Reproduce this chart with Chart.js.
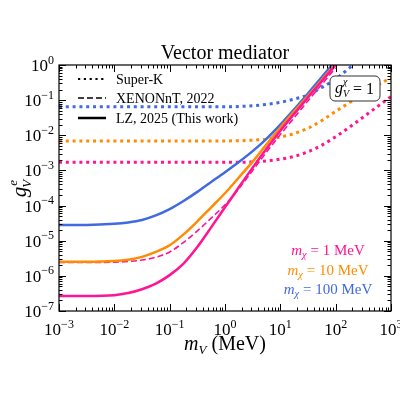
<!DOCTYPE html>
<html>
<head>
<meta charset="utf-8">
<script src="https://cdn.jsdelivr.net/npm/chart.js@4.4.1/dist/chart.umd.min.js"></script>
<style>body{margin:0;background:#fff}</style>
</head>
<body>
<canvas id="c" width="400" height="400"></canvas>
<script>
// Vector mediator limits, g_V^e vs m_V (MeV), g_V^chi = 1

// LZ 2025 (solid) + XENONnT 2022 (dashed) share this m_V grid
const mVGrid = [0.001, 0.00316, 0.01, 0.0178, 0.0316, 0.0562, 0.1, 0.178, 0.316, 0.562,
  1, 1.78, 3.16, 5.62, 10, 17.8, 31.6, 56.2, 100];
const lzMchi100 = [2.82e-5, 2.82e-5, 3.02e-5, 3.31e-5, 3.89e-5, 5.25e-5, 7.94e-5, 1.35e-4, 2.45e-4, 4.68e-4,
  8.91e-4, 1.74e-3, 3.55e-3, 7.94e-3, 2.0e-2, 5.50e-2, 0.155, 0.457, 1.32];
const lzMchi10 = [2.51e-6, 2.51e-6, 2.63e-6, 2.88e-6, 3.47e-6, 4.79e-6, 7.41e-6, 1.51e-5, 3.55e-5, 8.91e-5,
  2.24e-4, 6.31e-4, 1.78e-3, 5.50e-3, 1.66e-2, 4.79e-2, 0.132, 0.380, 1.10];
const lzMchi1 = [2.69e-7, 2.69e-7, 2.82e-7, 3.24e-7, 4.17e-7, 6.03e-7, 1.05e-6, 2.24e-6, 6.61e-6, 2.40e-5,
  8.91e-5, 3.31e-4, 1.20e-3, 4.17e-3, 1.35e-2, 4.07e-2, 0.120, 0.347, 1.0];
const xenonMchi1 = [2.40e-6, 2.40e-6, 2.45e-6, 2.57e-6, 2.82e-6, 3.39e-6, 4.79e-6, 8.91e-6, 1.91e-5, 4.37e-5,
  1.05e-4, 3.02e-4, 1.0e-3, 3.31e-3, 1.05e-2, 3.16e-2, 9.55e-2, 0.282, 0.832];

// Super-K (dotted)
const skGrid = [0.001, 1, 3.16, 5.62, 10, 17.8, 31.6, 56.2, 100, 178, 316, 562, 1000];
const skMchi100 = [0.0646, 0.0646, 0.0692, 0.0759, 0.0871, 0.107, 0.141, 0.229, 0.398, 0.832, 1.78, 3.55, 7.08];
const skMchi10 = [6.92e-3, 6.92e-3, 7.24e-3, 7.76e-3, 8.91e-3, 1.12e-2, 1.58e-2, 2.63e-2, 4.79e-2, 8.51e-2, 0.151, 0.263, 0.437];
const skMchi1 = [1.70e-3, 1.70e-3, 1.74e-3, 1.86e-3, 2.09e-3, 2.51e-3, 3.39e-3, 5.25e-3, 9.12e-3, 1.70e-2, 3.31e-2, 6.46e-2, 0.126];

const xExps = [-3, -2, -1, 0, 1, 2, 3];
const yExps = [-7, -6, -5, -4, -3, -2, -1, 0];

const PINK = '#ff1493', ORANGE = '#ff8c00', BLUE = '#4169e1';
const SERIF = '"Liberation Serif", "DejaVu Serif", serif';
const font = (size, italic) => (italic ? 'italic ' : '') + size + 'px ' + SERIF;

const pts = (xs, ys) => xs.map((x, i) => ({ x, y: ys[i] }));

function solid(label, xs, ys, color) {
  return { label, data: pts(xs, ys), borderColor: color, borderWidth: 2.5, pointRadius: 0,
    cubicInterpolationMode: 'monotone', fill: false };
}
function dashed(label, xs, ys, color) {
  return { ...solid(label, xs, ys, color), borderWidth: 1.6, borderDash: [6, 3] };
}
function dotted(label, xs, ys, color) {
  return { ...solid(label, xs, ys, color), borderWidth: 3, borderDash: [3, 3.8], borderCapStyle: 'butt' };
}

// draw a list of text runs; each run {t, size, italic, dy}
function runsWidth(ctx, runs) {
  let w = 0;
  runs.forEach(r => { ctx.font = font(r.size, r.italic); w += ctx.measureText(r.t).width + (r.gap || 0); });
  return w;
}
function drawRuns(ctx, runs, x, y, align) {
  const w = runsWidth(ctx, runs);
  let cx = align === 'center' ? x - w / 2 : align === 'right' ? x - w : x;
  ctx.textAlign = 'left';
  ctx.textBaseline = 'alphabetic';
  runs.forEach(r => {
    ctx.font = font(r.size, r.italic);
    ctx.fillText(r.t, cx, y + (r.dy || 0));
    cx += ctx.measureText(r.t).width + (r.gap || 0);
  });
}
const pow10 = e => [{ t: '10', size: 17 }, { t: (e < 0 ? '\u2212' : '') + Math.abs(e), size: 12, dy: -7.5 }];

const decorPlugin = {
  id: 'decor',
  afterDraw(chart) {
    const { ctx, chartArea: a, scales } = chart;
    const xs = scales.x, ys = scales.y;
    ctx.save();
    ctx.fillStyle = '#000';
    ctx.strokeStyle = '#000';

    // frame
    ctx.lineWidth = 1.2;
    ctx.strokeRect(a.left, a.top, a.right - a.left, a.bottom - a.top);

    // inward ticks on all four sides
    ctx.lineWidth = 1;
    ctx.beginPath();
    for (let e = xExps[0]; e <= xExps[xExps.length - 1]; e++) {
      for (let k = 1; k <= 9; k++) {
        if (e === xExps[xExps.length - 1] && k > 1) break;
        const px = Math.round(xs.getPixelForValue(k * Math.pow(10, e))) + 0.5;
        const len = k === 1 ? 7 : 3.5;
        ctx.moveTo(px, a.bottom); ctx.lineTo(px, a.bottom - len);
        ctx.moveTo(px, a.top); ctx.lineTo(px, a.top + len);
      }
    }
    for (let e = yExps[0]; e <= yExps[yExps.length - 1]; e++) {
      for (let k = 1; k <= 9; k++) {
        if (e === yExps[yExps.length - 1] && k > 1) break;
        const py = Math.round(ys.getPixelForValue(k * Math.pow(10, e))) + 0.5;
        const len = k === 1 ? 7 : 3.5;
        ctx.moveTo(a.left, py); ctx.lineTo(a.left + len, py);
        ctx.moveTo(a.right, py); ctx.lineTo(a.right - len, py);
      }
    }
    ctx.stroke();

    // tick labels
    xExps.forEach(e => drawRuns(ctx, pow10(e), xs.getPixelForValue(Math.pow(10, e)), a.bottom + 24, 'center'));
    yExps.forEach(e => drawRuns(ctx, pow10(e), a.left - 5, ys.getPixelForValue(Math.pow(10, e)) + 6, 'right'));

    // title
    ctx.font = font(20);
    ctx.textAlign = 'center';
    ctx.fillText('Vector mediator', (a.left + a.right) / 2, 59);

    // x axis title
    drawRuns(ctx, [
      { t: 'm', size: 20, italic: true },
      { t: 'V', size: 13, italic: true, dy: 4 },
      { t: ' (MeV)', size: 20 }
    ], (a.left + a.right) / 2, 350, 'center');

    // y axis title, rotated: g with stacked e (sup) and V (sub)
    ctx.save();
    ctx.translate(26, (a.top + a.bottom) / 2);
    ctx.rotate(-Math.PI / 2);
    ctx.font = font(21, true);
    const gw = ctx.measureText('g').width;
    ctx.font = font(13, true);
    const sw = Math.max(ctx.measureText('e').width, ctx.measureText('V').width);
    const x0 = -(gw + sw) / 2;
    ctx.textAlign = 'left';
    ctx.font = font(21, true);
    ctx.fillText('g', x0, 0);
    ctx.font = font(13, true);
    ctx.fillText('e', x0 + gw + 1, -9);
    ctx.fillText('V', x0 + gw - 1, 5);
    ctx.restore();

    // legend
    const legend = [
      { t: 'Super-K', dash: [2.2, 3.6], w: 2.2, y: 79 },
      { t: 'XENONnT, 2022', dash: [6, 3], w: 1.5, y: 98 },
      { t: 'LZ, 2025 (This work)', dash: [], w: 2.5, y: 118 }
    ];
    legend.forEach(l => {
      ctx.beginPath();
      ctx.setLineDash(l.dash);
      ctx.lineWidth = l.w;
      ctx.lineCap = 'butt';
      ctx.moveTo(78, l.y); ctx.lineTo(106, l.y);
      ctx.stroke();
      ctx.setLineDash([]);
      ctx.font = font(14);
      ctx.textAlign = 'left';
      ctx.fillText(l.t, 116, l.y + 5);
    });

    // coupling box
    const bx = 330, by = 76, bw = 50, bh = 25;
    ctx.beginPath();
    ctx.roundRect(bx, by, bw, bh, 5);
    ctx.fillStyle = '#fff';
    ctx.fill();
    ctx.lineWidth = 1;
    ctx.strokeStyle = '#333';
    ctx.stroke();
    ctx.fillStyle = '#000';
    ctx.font = font(16, true);
    ctx.textAlign = 'left';
    ctx.fillText('g', bx + 5, by + 17);
    ctx.font = font(10, true);
    ctx.fillText('\u03c7', bx + 13, by + 9);
    ctx.fillText('V', bx + 13, by + 21);
    ctx.font = font(16);
    ctx.fillText('= 1', bx + 23, by + 18);

    // m_chi labels
    [[PINK, '1', 255], [ORANGE, '10', 275], [BLUE, '100', 294]].forEach(([c, m, y]) => {
      ctx.fillStyle = c;
      drawRuns(ctx, [
        { t: 'm', size: 15, italic: true },
        { t: '\u03c7', size: 10.5, italic: true, dy: 3 },
        { t: ' = ' + m + ' MeV', size: 15 }
      ], 328, y, 'center');
    });
    ctx.restore();
  }
};

new Chart(document.getElementById('c'), {
  type: 'line',
  data: {
    datasets: [
      solid('LZ m\u03c7=1', mVGrid, lzMchi1, PINK),
      solid('LZ m\u03c7=10', mVGrid, lzMchi10, ORANGE),
      solid('LZ m\u03c7=100', mVGrid, lzMchi100, BLUE),
      dashed('XENONnT m\u03c7=1', mVGrid, xenonMchi1, PINK),
      dotted('Super-K m\u03c7=100', skGrid, skMchi100, BLUE),
      dotted('Super-K m\u03c7=10', skGrid, skMchi10, ORANGE),
      dotted('Super-K m\u03c7=1', skGrid, skMchi1, PINK)
    ]
  },
  options: {
    responsive: false,
    animation: false,
    layout: { padding: { left: 59, right: 9, top: 65, bottom: 89 } },
    plugins: { legend: { display: false }, tooltip: { enabled: false }, title: { display: false } },
    scales: {
      x: { type: 'logarithmic', min: 1e-3, max: 1e3, display: false },
      y: { type: 'logarithmic', min: 1e-7, max: 1, display: false }
    }
  },
  plugins: [decorPlugin]
});
</script>
</body>
</html>
